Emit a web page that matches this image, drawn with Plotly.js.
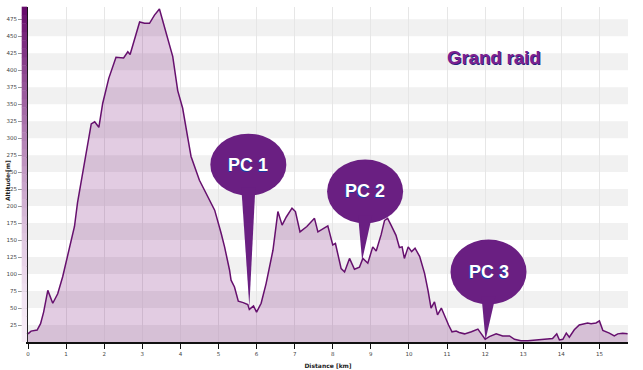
<!DOCTYPE html>
<html>
<head>
<meta charset="utf-8">
<script src="https://cdn.plot.ly/plotly-3.0.1.min.js"></script>
<style>html,body{margin:0;padding:0;background:#fff;}#chart{width:643px;height:370px;}</style>
</head>
<body>
<div id="chart"></div>
<script>
// ---- data ----
const distanceKm = [0.0,0.08,0.24,0.33,0.41,0.52,0.65,0.78,0.91,1.04,1.13,1.22,1.30,1.44,1.66,1.75,1.86,1.96,2.12,2.31,2.51,2.62,2.68,2.93,3.06,3.19,3.32,3.45,3.63,3.80,3.93,4.06,4.19,4.28,4.50,4.76,4.90,5.07,5.16,5.29,5.33,5.42,5.52,5.65,5.77,5.81,5.92,6.00,6.12,6.25,6.43,6.56,6.67,6.78,6.93,7.02,7.14,7.32,7.52,7.61,7.74,7.87,8.00,8.07,8.22,8.31,8.44,8.57,8.70,8.79,8.92,9.05,9.14,9.27,9.36,9.44,9.53,9.66,9.75,9.82,9.88,9.98,10.07,10.16,10.28,10.41,10.50,10.58,10.67,10.75,10.85,10.96,11.04,11.13,11.24,11.32,11.46,11.64,11.81,11.90,12.00,12.11,12.29,12.46,12.64,12.77,12.94,13.12,13.29,13.47,13.64,13.77,13.88,13.95,14.04,14.13,14.21,14.34,14.47,14.61,14.69,14.78,14.91,15.00,15.09,15.26,15.39,15.48,15.61,15.74];
const altitudeM = [12,16,17.5,27,44,76,57,71,96,128,150,170,205,248,321,324,316,351,388,419,418,427,423,471,469,469,481,490,454,420,370,344,302,273,238,209,194,160,140,106,91,81,60,58,55,48,53,44,57,86,135,192,172,184,197,192,162,170,182,162,166,171,143,145,108,103,123,107,110,123,116,140,134,158,179,182,172,157,139,140,123,140,133,138,126,101,76,50,59,40,50,35,25,15,16,14,12,15,19,12,4,8,12,9,9,4,2,2,3,3,4,5,12,3,4,13,7,18,25,27,28,27,28,31,17,13,9,12,13,12];
const yTicks = [25,50,75,100,125,150,175,200,225,250,275,300,325,350,375,400,425,450,475];
const xTicks = [0,1,2,3,4,5,6,7,8,9,10,11,12,13,14,15];
const pcLabels = ["PC 1","PC 2","PC 3"];
const pcKm = [5.81, 8.77, 12.01];
const pcAlt = [52, 120, 3];
const chartTitle = "Grand raid";

// ---- styling ----
const bubbleColor = '#6a1f82';
const bubbleStyle = [ {dx:-1, dy:142, hw:38, hh:31}, {dx:3, dy:69, hw:38, hh:32}, {dx:3, dy:68, hw:38, hh:32.5} ];
const yMax = 493;

const shapes = [];
// alternating grey bands
for (let b = 0; b < 475; b += 50) {
  shapes.push({type:'rect', xref:'paper', yref:'y', x0:0, x1:1, y0:b, y1:b+25,
    fillcolor:'#f1f1f1', line:{width:0}, layer:'below'});
}
// gradient bar to the left of the y axis
const nSeg = 40;
for (let i = 0; i < nSeg; i++) {
  const t = (i + 0.5) / nSeg;
  const k = Math.pow(t, 1.5);
  const r = Math.round(248 - (248 - 100) * k);
  const g = Math.round(238 - (238 - 8) * k);
  const bl = Math.round(248 - (248 - 104) * k);
  shapes.push({type:'rect', xref:'paper', yref:'paper', x0:-0.0105, x1:-0.0015,
    y0:i / nSeg, y1:(i + 1) / nSeg + 0.001, fillcolor:`rgb(${r},${g},${bl})`, line:{width:0}, layer:'above'});
}
// callout bubbles
const annotations = [];
for (let i = 0; i < pcLabels.length; i++) {
  const s = bubbleStyle[i];
  shapes.push({type:'circle', xref:'x', yref:'y', xsizemode:'pixel', ysizemode:'pixel',
    xanchor:pcKm[i], yanchor:pcAlt[i], x0:s.dx - s.hw, x1:s.dx + s.hw, y0:s.dy - s.hh, y1:s.dy + s.hh,
    fillcolor:bubbleColor, line:{width:0}, layer:'above'});
  shapes.push({type:'path', xref:'x', yref:'y', xsizemode:'pixel', ysizemode:'pixel',
    xanchor:pcKm[i], yanchor:pcAlt[i],
    path:`M ${s.dx - 7},${s.dy - s.hh + 8} L ${s.dx + 7},${s.dy - s.hh + 8} L 0,0 Z`,
    fillcolor:bubbleColor, line:{width:0}, layer:'above'});
  annotations.push({x:pcKm[i], y:pcAlt[i], xref:'x', yref:'y', xshift:s.dx, yshift:s.dy,
    xanchor:'center', yanchor:'middle',
    text:pcLabels[i], showarrow:false,
    font:{family:'Liberation Sans, Arial, sans-serif', size:18, color:'#ffffff', weight:'bold', shadow:'-1px 1px 0 #1a3aa0'}});
}
annotations.push({x:0.776, y:0.848, xref:'paper', yref:'paper', xanchor:'center', yanchor:'middle', text:chartTitle, showarrow:false,
  font:{family:'Liberation Sans, Arial, sans-serif', size:18.5, color:'#7c1f90', weight:'bold', shadow:'1px 1px 0 #25237a'}});
annotations.push({x:-0.034, y:0.5, xref:'paper', yref:'paper', xanchor:'center', yanchor:'middle', text:'Altitude [m]', textangle:-90, showarrow:false, yshift:-6,
  font:{family:'DejaVu Sans, sans-serif', size:6, color:'#222', weight:'bold'}});

const trace = {
  x: distanceKm, y: altitudeM, type:'scatter', mode:'lines',
  line:{color:'#66106e', width:1.5},
  fill:'tozeroy', fillcolor:'rgba(110,0,110,0.2)',
  hoverinfo:'skip'
};

const layout = {
  width:643, height:370,
  margin:{l:28, r:15, t:7, b:28},
  paper_bgcolor:'#ffffff', plot_bgcolor:'#ffffff',
  showlegend:false,
  xaxis:{range:[0,15.75], tickvals:xTicks, ticktext:xTicks.map(String), showgrid:true, gridcolor:'#e6e6e6', gridwidth:1,
    zeroline:false, showline:true, linecolor:'#111', linewidth:2, ticks:'outside', ticklen:5, tickcolor:'#111', tickwidth:1,
    tickfont:{family:'DejaVu Sans, sans-serif', size:5.5, color:'#444'},
    title:{text:'Distance [km]', standoff:8, font:{family:'DejaVu Sans, sans-serif', size:6, color:'#222', weight:'bold'}}},
  yaxis:{range:[0,yMax], tickvals:yTicks, ticktext:yTicks.map(String), showgrid:false, zeroline:false,
    showline:true, linecolor:'#111', linewidth:2, ticks:'outside', ticklen:8, tickcolor:'#999', tickwidth:1,
    tickfont:{family:'DejaVu Sans, sans-serif', size:5.5, color:'#444'}},
  shapes:shapes,
  annotations:annotations
};

Plotly.newPlot('chart', [trace], layout, {staticPlot:true, displayModeBar:false});
</script>
</body>
</html>
